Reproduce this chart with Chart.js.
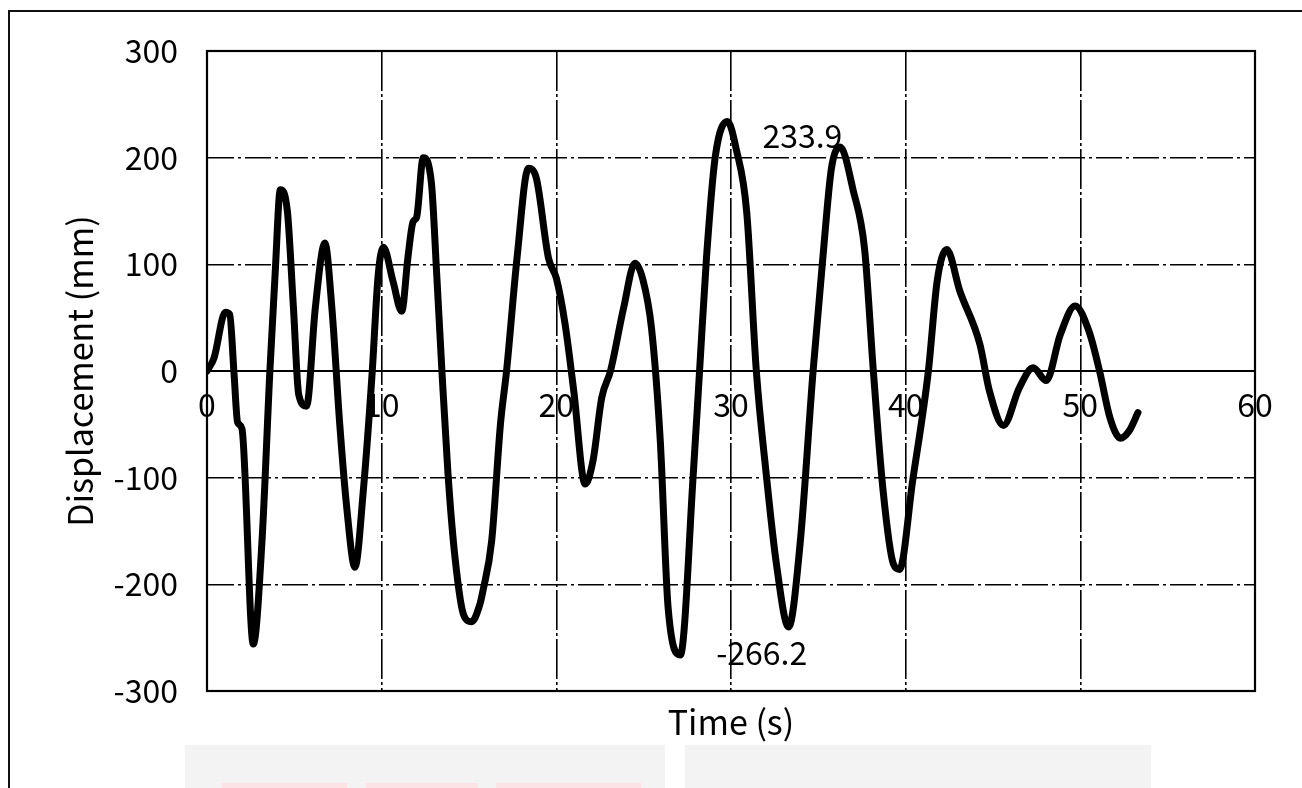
<!DOCTYPE html>
<html lang="en">
<head>
    <meta charset="UTF-8">
    <title>Displacement vs Time</title>
    <style>
        html, body {
            margin: 0;
            padding: 0;
            background: #fff;
            overflow: hidden;
        }

        .wrap {
            position: relative;
            width: 1302px;
            height: 788px;
            overflow: hidden;
        }

        /* cropped frame of the scanned figure: only left and top edges show */
        .frame-top {
            position: absolute;
            left: 8px;
            top: 10px;
            width: 1294px;
            height: 2px;
            background: #111;
        }

        .frame-left {
            position: absolute;
            left: 8px;
            top: 10px;
            width: 2px;
            height: 778px;
            background: #111;
        }

        .box {
            position: absolute;
            top: 745px;
            height: 43px;
            background: #f3f3f3;
        }

        .pink {
            position: absolute;
            top: 783px;
            height: 5px;
            background: #fbe3e6;
        }

        canvas {
            position: absolute;
            left: 0;
            top: 0;
        }
    </style>
</head>
<body>

<div class="wrap">
    <div class="box" style="left:185px; width:480px;"></div>
    <div class="box" style="left:685px; width:466px;"></div>
    <div class="pink" style="left:222px; width:125px;"></div>
    <div class="pink" style="left:366px; width:112px;"></div>
    <div class="pink" style="left:496px; width:145px;"></div>
    <canvas id="grafico" width="1302" height="788"></canvas>
    <div class="frame-top"></div>
    <div class="frame-left"></div>
</div>

<script src="https://cdn.jsdelivr.net/npm/chart.js"></script>
<script>
    // time (s)
    const tempos = [
        0, 0.4, 1.05, 1.3, 1.55, 1.75, 2.0, 2.65, 3.15, 3.6, 3.9, 4.2, 4.6,
        4.95, 5.25, 5.7, 6.2, 6.75, 7.15, 7.6, 8.0, 8.47, 8.95, 9.45, 9.8,
        10.1, 10.65, 11.15, 11.5, 11.8, 12.0, 12.38, 12.85, 13.15, 13.45, 13.8,
        14.2, 14.7, 15.15, 15.6, 15.8, 16.3, 16.8, 17.15, 17.75, 18.4, 18.85,
        19.55, 20.0, 20.5, 21.0, 21.65, 22.1, 22.6, 23.1, 23.85, 24.5, 24.95,
        25.45, 25.95, 26.4, 27.1, 27.85, 28.2, 28.6, 29.1, 29.8, 30.3, 30.9,
        31.45, 32.0, 32.6, 33.3, 33.95, 34.7, 35.3, 35.75, 36.25, 37.0, 37.65,
        38.15, 38.7, 39.3, 39.65, 40.4, 41.3, 41.8, 42.35, 43.1, 44.25, 44.8,
        45.6, 46.5, 47.3, 48.05, 48.85, 49.7, 50.5, 51.1, 51.7, 52.3, 52.8, 53.3
    ];
    // displacement (mm)
    const deslocamentos = [
        0, 12, 55, 53, -3, -48, -54, -256, -159, 0, 91, 170, 150,
        59, -22, -33, 59, 120, 59, -50, -128, -184, -112, -3, 90,
        116, 84, 56, 106, 140, 144, 200, 176, 91, 0, -97,
        -175, -229, -235, -220, -206, -159, -50, 0, 106, 190, 181,
        106, 87, 44, -19, -106, -84, -25, 0, 59, 101, 86,
        40, -65, -222, -266.2, -94, 0, 107, 201, 233.9, 208, 149,
        0, -94, -181, -240, -163, 0, 114, 190, 210, 169, 114,
        0, -111, -181, -186, -103, 0, 84, 114, 75, 25, -19,
        -51, -16, 3, -9, 34, 61, 37, 0, -44, -63, -56, -39
    ];
    const ticksX = [0, 10, 20, 30, 40, 50, 60];
    const ticksY = [-300, -200, -100, 0, 100, 200, 300];

    // peak labels
    const rotulos = ['233.9', '-266.2'];
    const rotulosT = [31.8, 29.15];
    const rotulosV = [220, -264.5];

    const fonte = "'Noto Sans CJK JP', 'Noto Sans', sans-serif";
    const tracejado = ctx => (ctx.tick && ctx.tick.value === 0) ? [] : [26, 4, 3, 4];

    const moldura = {
        id: 'moldura',
        afterDraw(chart) {
            const {ctx, chartArea: a} = chart;
            ctx.save();
            ctx.strokeStyle = '#000';
            ctx.lineWidth = 2.2;
            ctx.strokeRect(a.left, a.top, a.right - a.left, a.bottom - a.top);
            ctx.restore();
        }
    };

    const rotulosPlugin = {
        id: 'rotulos',
        afterDatasetsDraw(chart) {
            const {ctx, scales} = chart;
            ctx.save();
            ctx.font = '32px ' + fonte;
            ctx.fillStyle = '#000';
            ctx.textAlign = 'left';
            ctx.textBaseline = 'middle';
            rotulos.forEach((txt, i) => {
                ctx.fillText(txt, scales.x.getPixelForValue(rotulosT[i]), scales.y.getPixelForValue(rotulosV[i]));
            });
            ctx.restore();
        }
    };

    const pontos = tempos.map((t, i) => ({x: t, y: deslocamentos[i]}));

    new Chart(document.getElementById('grafico'), {
        type: 'line',
        data: {
            datasets: [{
                data: pontos,
                borderColor: '#000',
                borderWidth: 7,
                borderCapStyle: 'round',
                borderJoinStyle: 'round',
                pointRadius: 0,
                cubicInterpolationMode: 'monotone',
                fill: false
            }]
        },
        options: {
            responsive: false,
            animation: false,
            events: [],
            layout: {padding: {left: 0, top: 51, right: 47, bottom: 0}},
            plugins: {
                legend: {display: false},
                tooltip: {enabled: false}
            },
            scales: {
                x: {
                    type: 'linear',
                    position: {y: 0},
                    min: 0,
                    max: 60,
                    afterBuildTicks: s => { s.ticks = ticksX.map(v => ({value: v})); },
                    ticks: {color: '#000', font: {family: fonte, size: 32}, padding: 15},
                    grid: {color: '#000', lineWidth: 1.6, drawTicks: false},
                    border: {display: true, color: '#000', width: 2, dash: [40, 3, 3, 3]}
                },
                x2: {
                    type: 'linear',
                    position: 'bottom',
                    min: 0,
                    max: 60,
                    ticks: {display: false},
                    grid: {display: false},
                    border: {display: false},
                    title: {
                        display: true,
                        text: 'Time (s)',
                        color: '#000',
                        font: {family: fonte, size: 34},
                        padding: {top: 0, bottom: 46}
                    },
                    afterFit: s => { s.height = 97; }
                },
                y: {
                    type: 'linear',
                    position: 'left',
                    min: -300,
                    max: 300,
                    afterBuildTicks: s => { s.ticks = ticksY.map(v => ({value: v})); },
                    ticks: {color: '#000', font: {family: fonte, size: 32}, padding: 29},
                    grid: {
                        color: '#000',
                        lineWidth: ctx => (ctx.tick && ctx.tick.value === 0) ? 2 : 1.6,
                        drawTicks: false
                    },
                    border: {display: true, color: '#000', width: 2, dash: tracejado},
                    title: {
                        display: true,
                        text: 'Displacement (mm)',
                        color: '#000',
                        font: {family: fonte, size: 34},
                        padding: {top: 60, bottom: 0}
                    },
                    afterFit: s => { s.width = 207; }
                }
            }
        },
        plugins: [moldura, rotulosPlugin]
    });
</script>

</body>
</html>
